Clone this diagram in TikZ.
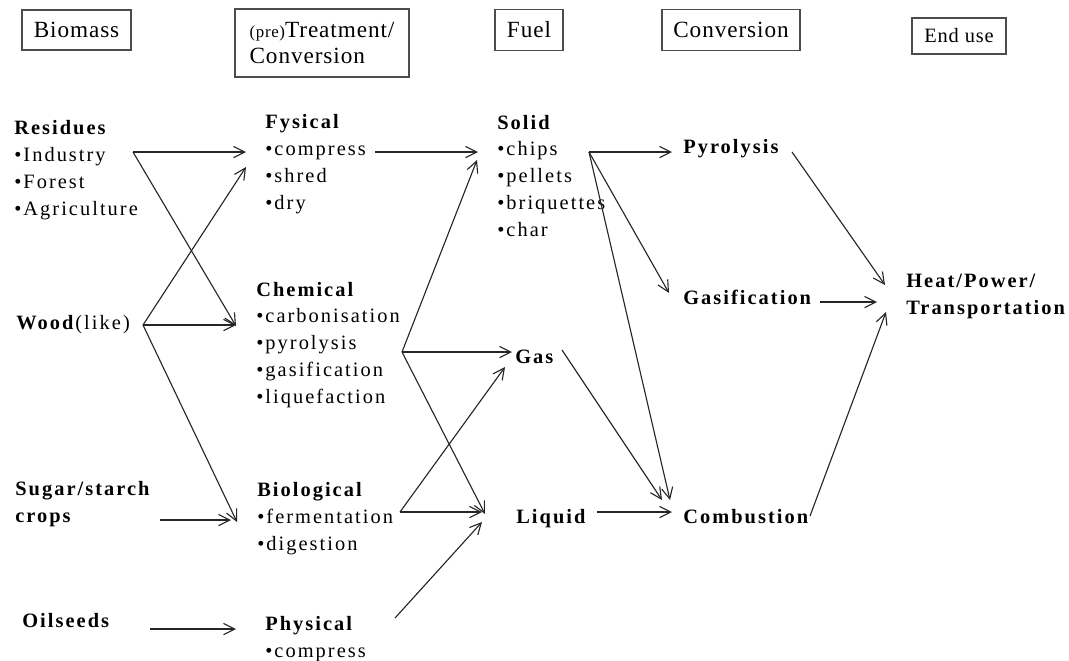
\documentclass[tikz,border=0pt]{standalone}
\usepackage{fontspec}
\setmainfont{Liberation Serif}
\newfontfamily\bodyfont{Liberation Serif}[LetterSpace=10]
\newfontfamily\headfont{Liberation Serif}[LetterSpace=4]
\usetikzlibrary{arrows.meta}
\begin{document}
\begin{tikzpicture}[x=0.025cm,y=-0.025cm,
 head/.style={draw=black!70,line width=0.9pt,inner sep=0pt,align=left,font=\headfont\fontsize{16.5}{19}\selectfont},
 item/.style={anchor=base west,inner sep=0pt,align=left,font=\bodyfont\fontsize{14.5}{19}\selectfont},
 flow/.style={-{Straight Barb[length=8pt,width=8pt]},line width=0.8pt,black!85}]
 \useasboundingbox (0,0) rectangle (1069,660);
 \node[head,minimum width=2.725cm,minimum height=1cm] (hbio) at (76.5,30) {Biomass};
 \node[head,minimum width=4.35cm,minimum height=1.7cm] (htreat) at (322,43)
   {{\fontsize{12}{19}\selectfont(pre)}Treatment/\\Conversion};
 \node[head,minimum width=1.7cm,minimum height=1.025cm] (hfuel) at (529,30) {Fuel};
 \node[head,minimum width=3.45cm,minimum height=1.025cm] (hconv) at (731,30) {Conversion};
 \node[head,minimum width=2.35cm,minimum height=0.9cm,font=\headfont\fontsize{14.5}{19}\selectfont] (hend) at (959,36) {End use};
 \node[item] (res) at (14,215) {\textbf{Residues}\\•Industry\\•Forest\\•Agriculture};
 \node[item] (wood) at (16,329) {\textbf{Wood}(like)};
 \node[item] (sugar) at (15,522) {\textbf{Sugar/starch}\\\textbf{crops}};
 \node[item] (oil) at (22,627) {\textbf{Oilseeds}};
 \node[item] (fys) at (265,209) {\textbf{Fysical}\\•compress\\•shred\\•dry};
 \node[item] (chem) at (256,403) {\textbf{Chemical}\\•carbonisation\\•pyrolysis\\•gasification\\•liquefaction};
 \node[item] (bio) at (257,550) {\textbf{Biological}\\•fermentation\\•digestion};
 \node[item] (phys) at (265,657) {\textbf{Physical}\\•compress};
 \node[item] (solid) at (497,236) {\textbf{Solid}\\•chips\\•pellets\\•briquettes\\•char};
 \node[item] (gas) at (515,363) {\textbf{Gas}};
 \node[item] (liq) at (516,523) {\textbf{Liquid}};
 \node[item] (pyr) at (683,153) {\textbf{Pyrolysis}};
 \node[item] (gasif) at (683,304) {\textbf{Gasification}};
 \node[item] (comb) at (683,523) {\textbf{Combustion}};
 \node[item] (heat) at (906,314) {\textbf{Heat/Power/}\\\textbf{Transportation}};
 \coordinate (res-o) at (133,152);
 \coordinate (wood-o) at (143,325);
 \coordinate (sugar-o) at (160,520);
 \coordinate (oil-o) at (150,629);
 \coordinate (fys-i1) at (246,152);
 \coordinate (fys-i2) at (246,167);
 \coordinate (fys-o) at (375,152);
 \coordinate (chem-i1) at (236,326);
 \coordinate (chem-i2) at (236,325);
 \coordinate (chem-o) at (402,352);
 \coordinate (bio-i1) at (237,522);
 \coordinate (bio-i2) at (231,520);
 \coordinate (bio-o) at (400,512);
 \coordinate (phys-i) at (236,629);
 \coordinate (phys-o) at (395,618);
 \coordinate (solid-i1) at (478,152);
 \coordinate (solid-i2) at (477,160);
 \coordinate (solid-o) at (589,152);
 \coordinate (gas-i1) at (512,352);
 \coordinate (gas-i2) at (505,367);
 \coordinate (gas-o) at (562,350);
 \coordinate (liq-i1) at (485,514);
 \coordinate (liq-i2) at (482,512);
 \coordinate (liq-i3) at (482,522);
 \coordinate (liq-o) at (597,512);
 \coordinate (pyr-i) at (672,152);
 \coordinate (pyr-o) at (792,152);
 \coordinate (gasif-i) at (669,293);
 \coordinate (gasif-o) at (820,302);
 \coordinate (comb-i1) at (670,500);
 \coordinate (comb-i2) at (662,500);
 \coordinate (comb-i3) at (672,512);
 \coordinate (comb-o) at (810,516);
 \coordinate (heat-i1) at (885,285);
 \coordinate (heat-i2) at (877,302);
 \coordinate (heat-i3) at (886,312);
 \draw[flow] (res-o) -- (fys-i1);
 \draw[flow] (res-o) -- (chem-i1);
 \draw[flow] (wood-o) -- (fys-i2);
 \draw[flow] (wood-o) -- (chem-i2);
 \draw[flow] (wood-o) -- (bio-i1);
 \draw[flow] (sugar-o) -- (bio-i2);
 \draw[flow] (oil-o) -- (phys-i);
 \draw[flow] (fys-o) -- (solid-i1);
 \draw[flow] (chem-o) -- (solid-i2);
 \draw[flow] (chem-o) -- (gas-i1);
 \draw[flow] (chem-o) -- (liq-i1);
 \draw[flow] (bio-o) -- (liq-i2);
 \draw[flow] (bio-o) -- (gas-i2);
 \draw[flow] (phys-o) -- (liq-i3);
 \draw[flow] (solid-o) -- (pyr-i);
 \draw[flow] (solid-o) -- (gasif-i);
 \draw[flow] (solid-o) -- (comb-i1);
 \draw[flow] (gas-o) -- (comb-i2);
 \draw[flow] (liq-o) -- (comb-i3);
 \draw[flow] (pyr-o) -- (heat-i1);
 \draw[flow] (gasif-o) -- (heat-i2);
 \draw[flow] (comb-o) -- (heat-i3);
\end{tikzpicture}
\end{document}
